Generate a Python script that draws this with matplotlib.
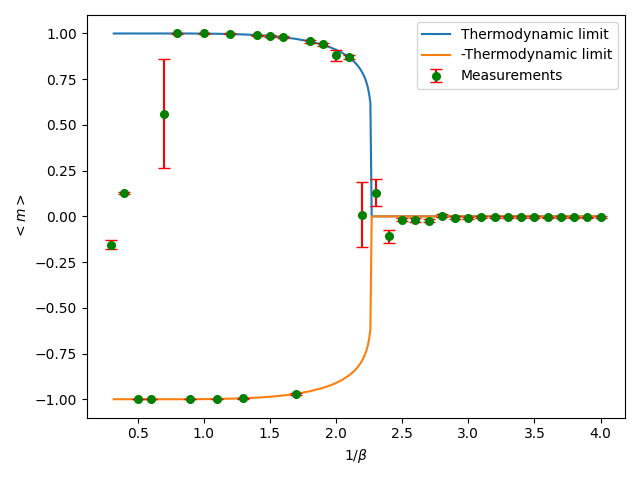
import matplotlib
matplotlib.use("Agg")
import matplotlib.pyplot as plt
import numpy as np

# Thermodynamic limit curve
limit_T = [0.32, 0.6, 0.8, 0.9, 1.0, 1.1, 1.2, 1.3, 1.4, 1.5, 1.6, 1.7, 1.8, 1.9, 1.95,
           2.0, 2.05, 2.1, 2.12, 2.14, 2.15, 2.16, 2.17, 2.18, 2.19, 2.2, 2.21, 2.22,
           2.23, 2.24, 2.25, 2.255, 2.26, 2.27, 4.0]
limit_m = [1.0, 1.0, 1.0, 0.9999, 0.9993, 0.9985, 0.997, 0.9948, 0.9914, 0.9863, 0.9796,
           0.9701, 0.9568, 0.9383, 0.9262, 0.9113, 0.8928, 0.8688, 0.8569, 0.8433,
           0.8357, 0.8275, 0.8184, 0.8085, 0.7973, 0.7848, 0.7704, 0.7535,
           0.7331, 0.7073, 0.672, 0.6472, 0.62, 0.0, 0.0]

# Measurements
meas_T = [0.3, 0.4, 0.5, 0.6, 0.7, 0.8, 0.9, 1.0, 1.1, 1.2, 1.3, 1.4, 1.5, 1.6, 1.7,
          1.8, 1.9, 2.0, 2.1, 2.2, 2.3, 2.4, 2.5, 2.6, 2.7, 2.8, 2.9, 3.0, 3.1, 3.2,
          3.3, 3.4, 3.5, 3.6, 3.7, 3.8, 3.9, 4.0]
meas_m = [-0.155, 0.13, -1.0, -1.0, 0.562, 1.0, -1.0, 1.0, -1.0, 0.998, -0.995, 0.99,
          0.985, 0.979, -0.972, 0.958, 0.94, 0.88, 0.87, 0.01, 0.13, -0.11,
          -0.018, -0.02, -0.023, 0.003, -0.007, -0.007, -0.002, -0.002, -0.002,
          -0.002, -0.002, -0.006, -0.002, -0.006, -0.006, -0.002]
meas_err = [0.025, 0.005, 0.001, 0.001, 0.298, 0.001, 0.001, 0.001, 0.001, 0.002,
            0.003, 0.004, 0.005, 0.006, 0.006, 0.008, 0.01, 0.03, 0.01, 0.18, 0.075,
            0.035, 0.01, 0.01, 0.01, 0.008, 0.008, 0.006, 0.005, 0.005, 0.005, 0.005,
            0.005, 0.005, 0.005, 0.005, 0.005, 0.005]

fig, ax = plt.subplots(figsize=(6.4, 4.8), dpi=100)
ax.plot(limit_T, limit_m, label="Thermodynamic limit")
ax.plot(limit_T, [-v for v in limit_m], label="-Thermodynamic limit")
ax.errorbar(meas_T, meas_m, yerr=meas_err, fmt='o', color='green', ecolor='red',
            capsize=4, markersize=5.5, label="Measurements")
ax.set_xlabel(r"$1/\beta$")
ax.set_ylabel(r"$<m>$")
ax.legend(loc='upper right')
fig.tight_layout()
fig.savefig("out.png", dpi=100)
